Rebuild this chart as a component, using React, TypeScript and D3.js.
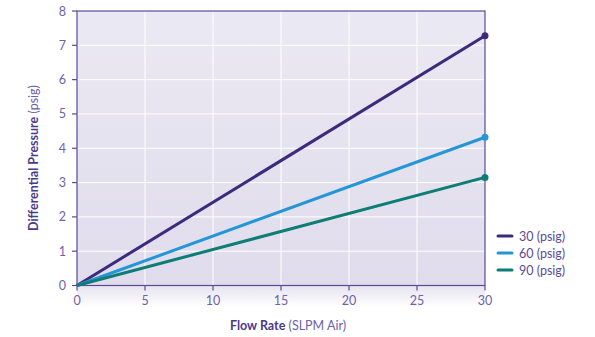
import React from "react";
import * as d3 from "d3";

const seriesNames = ["30 (psig)", "60 (psig)", "90 (psig)"];
const seriesColors = ["#3d2a7d", "#2496d6", "#0d7d76"];
const flowStart = [0, 0, 0];
const flowEnd = [30, 30, 30];
const pressureStart = [0, 0, 0];
const pressureEnd = [7.28, 4.32, 3.15];
const xTicks = [0, 5, 10, 15, 20, 25, 30];
const yTicks = [0, 1, 2, 3, 4, 5, 6, 7, 8];

export default function App() {
  const W = 595, H = 337;
  const left = 77, right = 485, top = 11, bottom = 285.5;
  const x = d3.scaleLinear().domain([0, 30]).range([left, right]);
  const y = d3.scaleLinear().domain([0, 8]).range([bottom, top]);
  const line = d3.line<[number, number]>().x(d => x(d[0])).y(d => y(d[1]));
  const axisColor = "#5a4a9c";
  const tickText = "#6e62a8";
  const font = "Lato, 'DejaVu Sans', sans-serif";
  return (
    <svg width={W} height={H} style={{ position: "absolute", left: 0, top: 0 }} fontFamily={font}>
      <defs>
        <linearGradient id="bg" x1="0" y1="0" x2="0" y2="1">
          <stop offset="0" stopColor="#ebe9f3" />
          <stop offset="1" stopColor="#e0dcec" />
        </linearGradient>
        <linearGradient id="shadow" x1="0" y1="0" x2="0" y2="1">
          <stop offset="0" stopColor="#e6e3ef" />
          <stop offset="1" stopColor="#ffffff" />
        </linearGradient>
      </defs>
      <rect x={0} y={0} width={W} height={H} fill="#fff" />
      <rect x={left} y={bottom} width={right - left} height={22} fill="url(#shadow)" />
      <rect x={left} y={top} width={right - left} height={bottom - top} fill="url(#bg)" />
      {xTicks.slice(1, -1).map(t => (
        <line key={"gx" + t} x1={x(t)} x2={x(t)} y1={top} y2={bottom} stroke="#fff" strokeWidth={1} />
      ))}
      {yTicks.slice(1, -1).map(t => (
        <line key={"gy" + t} x1={left} x2={right} y1={y(t)} y2={y(t)} stroke="#fff" strokeWidth={1} />
      ))}
      <rect x={left} y={top} width={right - left} height={bottom - top} fill="none" stroke={axisColor} strokeWidth={1.2} />
      {xTicks.map(t => (
        <g key={"tx" + t}>
          <line x1={x(t)} x2={x(t)} y1={bottom} y2={bottom + 5} stroke={axisColor} strokeWidth={1.2} />
          <text x={x(t)} y={bottom + 19} textAnchor="middle" fontSize={12.5} fill={tickText}>{t}</text>
        </g>
      ))}
      {yTicks.map(t => (
        <g key={"ty" + t}>
          <line x1={left - 5} x2={left} y1={y(t)} y2={y(t)} stroke={axisColor} strokeWidth={1.2} />
          <text x={left - 11} y={y(t) + 4.5} textAnchor="end" fontSize={12.5} fill={tickText}>{t}</text>
        </g>
      ))}
      {seriesNames.map((n, i) => {
        const pts: [number, number][] = [[flowStart[i], pressureStart[i]], [flowEnd[i], pressureEnd[i]]];
        return (
          <g key={n}>
            <path d={line(pts) || ""} fill="none" stroke={seriesColors[i]} strokeWidth={3} />
            <circle cx={x(flowEnd[i])} cy={y(pressureEnd[i])} r={3.5} fill={seriesColors[i]} />
          </g>
        );
      })}
      <text x={(left + right) / 2 + 7} y={330} textAnchor="middle" fontSize={12.5} fill="#4b3a8c">
        <tspan fontWeight="bold">Flow Rate</tspan><tspan fill="#6e62a8"> (SLPM Air)</tspan>
      </text>
      <text transform={`translate(38,158) rotate(-90)`} textAnchor="middle" fontSize={12.5} fill="#4b3a8c">
        <tspan fontWeight="bold">Differential Pressure</tspan><tspan fill="#6e62a8"> (psig)</tspan>
      </text>
      {seriesNames.map((n, i) => (
        <g key={"lg" + n} transform={`translate(498,${236 + i * 17})`}>
          <line x1={0} x2={14} y1={0} y2={0} stroke={seriesColors[i]} strokeWidth={3} strokeLinecap="round" />
          <text x={21} y={4.5} fontSize={12.5} fill="#5a4a9c">{n}</text>
        </g>
      ))}
    </svg>
  );
}
